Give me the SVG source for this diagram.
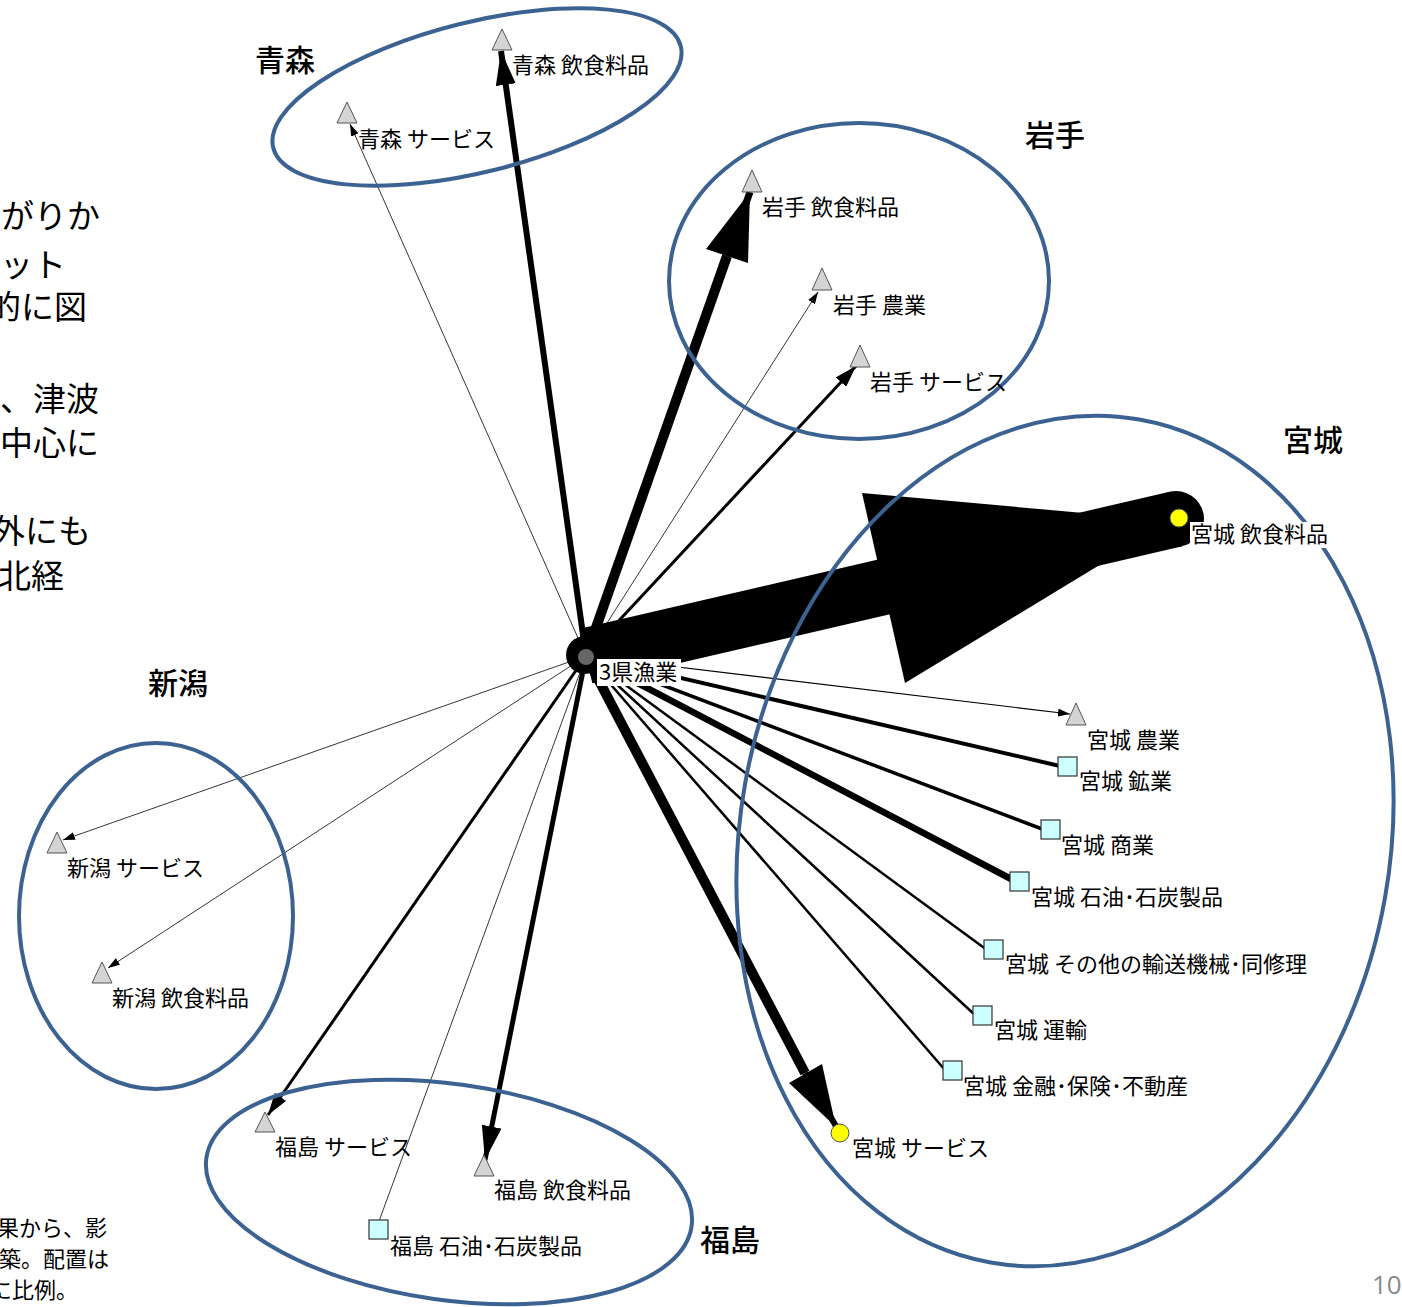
<svg xmlns="http://www.w3.org/2000/svg" width="1402" height="1307" viewBox="0 0 1402 1307">
<style>
.side{font-family:"Noto Sans CJK JP","Noto Sans CJK SC",sans-serif;font-size:33px;fill:#000}
.note{font-family:"Noto Sans CJK JP","Noto Sans CJK SC",sans-serif;font-size:22px;fill:#000}
.grp{font-family:"Noto Sans CJK JP","Noto Sans CJK SC",sans-serif;font-size:30px;font-weight:500;fill:#000}
.lbl{font-family:"Noto Sans CJK JP","Noto Sans CJK SC",sans-serif;font-size:22px;fill:#000}
.tri{fill:#d4d4d4;stroke:#555;stroke-width:1}
.sq{fill:#ccffff;stroke:#333;stroke-width:1.2}
.yel{fill:#ffff00;stroke:#555;stroke-width:1}
.ring{fill:none;stroke:#3c6292;stroke-width:4}
.e{stroke:#000;fill:none}
</style>
<defs>
<marker id="a1" markerUnits="userSpaceOnUse" markerWidth="12" markerHeight="8" refX="12" refY="4" orient="auto"><path d="M0,0 L12,4 L0,8 z" fill="#000"/></marker>
<marker id="a2" markerUnits="userSpaceOnUse" markerWidth="22" markerHeight="14" refX="22" refY="7" orient="auto"><path d="M0,0 L22,7 L0,14 z" fill="#000"/></marker>
<marker id="a3" markerUnits="userSpaceOnUse" markerWidth="34" markerHeight="20" refX="34" refY="10" orient="auto"><path d="M0,0 L34,10 L0,20 z" fill="#000"/></marker>
</defs>
<rect width="1402" height="1307" fill="#fff"/>

<g id="side-text">
<text class="side" x="1" y="228">がりか</text>
<text class="side" x="0" y="277">ット</text>
<text class="side" x="-12" y="319">的に図</text>
<text class="side" x="0" y="411">、津波</text>
<text class="side" x="0" y="455">中心に</text>
<text class="side" x="-8" y="543">外にも</text>
<text class="side" x="-2" y="588">北経</text>
<text class="note" x="-3" y="1236">果から、影</text>
<text class="note" x="-1" y="1267">築。配置は</text>
<text class="note" x="-10" y="1298">に比例。</text>
<text x="1372" y="1294" font-family="'Open Sans','Liberation Sans',sans-serif" font-size="26" fill="#8a8a8a">10</text>
</g>

<g id="connectors">
<line class="e" x1="586" y1="656" x2="501" y2="51" stroke-width="6" marker-end="url(#a3)"/>
<line class="e" x1="586" y1="656" x2="350" y2="124" stroke-width="0.8" marker-end="url(#a1)"/>
<line class="e" x1="586" y1="656" x2="727" y2="256" stroke-width="10"/>
<line class="e" x1="727" y1="256" x2="750" y2="192" stroke-width="7"/>
<polygon points="706,249 748,263 750,192" fill="#000"/>
<line class="e" x1="586" y1="656" x2="818" y2="292" stroke-width="0.8" marker-end="url(#a1)"/>
<line class="e" x1="586" y1="656" x2="856" y2="366" stroke-width="3" marker-end="url(#a2)"/>
<line class="e" x1="586" y1="656" x2="1070" y2="714" stroke-width="1.2" marker-end="url(#a1)"/>
<line class="e" x1="586" y1="656" x2="1060" y2="766" stroke-width="4"/>
<line class="e" x1="586" y1="656" x2="1042" y2="829" stroke-width="3.5"/>
<line class="e" x1="586" y1="656" x2="1013" y2="880" stroke-width="6.5"/>
<line class="e" x1="586" y1="656" x2="987" y2="950" stroke-width="2.5"/>
<line class="e" x1="586" y1="656" x2="975" y2="1015" stroke-width="2.5"/>
<line class="e" x1="586" y1="656" x2="945" y2="1070" stroke-width="2.5"/>
<line class="e" x1="586" y1="656" x2="805" y2="1073" stroke-width="10"/>
<line class="e" x1="805" y1="1073" x2="840" y2="1133" stroke-width="6"/>
<polygon points="789,1083 822,1064 836,1127" fill="#000"/>
<line class="e" x1="586" y1="656" x2="63" y2="840" stroke-width="0.8" marker-end="url(#a1)"/>
<line class="e" x1="586" y1="656" x2="108" y2="968" stroke-width="0.8" marker-end="url(#a1)"/>
<line class="e" x1="586" y1="656" x2="268" y2="1115" stroke-width="3" marker-end="url(#a2)"/>
<line class="e" x1="586" y1="656" x2="485" y2="1160" stroke-width="5" marker-end="url(#a3)"/>
<line class="e" x1="586" y1="656" x2="378" y2="1224" stroke-width="0.8"/>
<line class="e" x1="586" y1="656" x2="1176" y2="519" stroke-width="56"/>
<circle cx="1176" cy="519" r="28" fill="#000"/>
<polygon points="862,493 905,683 1172,521" fill="#000"/>
</g>

<g id="groups">
<ellipse class="ring" cx="477" cy="97" rx="210" ry="75" transform="rotate(-14 477 97)"/>
<ellipse class="ring" cx="859" cy="281" rx="190" ry="158"/>
<ellipse class="ring" cx="1065" cy="841" rx="325" ry="428" transform="rotate(10 1065 841)"/>
<ellipse class="ring" cx="156" cy="916" rx="137" ry="173"/>
<ellipse class="ring" cx="449" cy="1192" rx="245" ry="108" transform="rotate(8 449 1192)"/>
<text class="grp" x="255" y="71">青森</text>
<text class="grp" x="1025" y="146">岩手</text>
<text class="grp" x="1283" y="451">宮城</text>
<text class="grp" x="148" y="694">新潟</text>
<text class="grp" x="700" y="1251">福島</text>
</g>

<g id="n-center">
<circle cx="585" cy="655" r="19" fill="#000"/>
<circle cx="586" cy="657" r="8" fill="#666"/>
<rect x="597" y="659" width="84" height="27" fill="#fff"/>
<text class="lbl" x="599" y="680">3県漁業</text>
</g>
<g id="n-aomori-food"><polygon class="tri" points="502,29 512,50 492,50"/><text class="lbl" x="512" y="73">青森 飲食料品</text></g>
<g id="n-aomori-service"><polygon class="tri" points="347,102 357,123 337,123"/><text class="lbl" x="358" y="147">青森 サービス</text></g>
<g id="n-iwate-food"><polygon class="tri" points="752,170 762,192 742,192"/><text class="lbl" x="762" y="215">岩手 飲食料品</text></g>
<g id="n-iwate-agri"><polygon class="tri" points="822,268 832,290 812,290"/><text class="lbl" x="833" y="313">岩手 農業</text></g>
<g id="n-iwate-service"><polygon class="tri" points="860,345 870,367 850,367"/><text class="lbl" x="870" y="390">岩手 サービス</text></g>
<g id="n-miyagi-food"><circle class="yel" cx="1179" cy="518" r="9"/><rect x="1190" y="522" width="144" height="26" fill="#fff"/><text class="lbl" x="1191" y="542">宮城 飲食料品</text></g>
<g id="n-miyagi-agri"><polygon class="tri" points="1076,703 1086,725 1066,725"/><text class="lbl" x="1087" y="748">宮城 農業</text></g>
<g id="n-miyagi-mining"><rect class="sq" x="1058" y="757" width="19" height="19"/><text class="lbl" x="1079" y="789">宮城 鉱業</text></g>
<g id="n-miyagi-commerce"><rect class="sq" x="1041" y="820" width="19" height="19"/><text class="lbl" x="1061" y="853">宮城 商業</text></g>
<g id="n-miyagi-petro"><rect class="sq" x="1010" y="872" width="19" height="19"/><text class="lbl" x="1031" y="905">宮城 石油･石炭製品</text></g>
<g id="n-miyagi-transport-eq"><rect class="sq" x="984" y="940" width="19" height="19"/><text class="lbl" x="1005" y="972">宮城 その他の輸送機械･同修理</text></g>
<g id="n-miyagi-transport"><rect class="sq" x="973" y="1006" width="19" height="19"/><text class="lbl" x="994" y="1038">宮城 運輸</text></g>
<g id="n-miyagi-finance"><rect class="sq" x="943" y="1061" width="19" height="19"/><text class="lbl" x="963" y="1094">宮城 金融･保険･不動産</text></g>
<g id="n-miyagi-service"><circle class="yel" cx="840" cy="1133" r="9"/><text class="lbl" x="852" y="1156">宮城 サービス</text></g>
<g id="n-niigata-service"><polygon class="tri" points="57,832 67,853 47,853"/><text class="lbl" x="67" y="876">新潟 サービス</text></g>
<g id="n-niigata-food"><polygon class="tri" points="102,962 112,983 92,983"/><text class="lbl" x="112" y="1006">新潟 飲食料品</text></g>
<g id="n-fukushima-service"><polygon class="tri" points="265,1112 275,1132 255,1132"/><text class="lbl" x="275" y="1155">福島 サービス</text></g>
<g id="n-fukushima-food"><polygon class="tri" points="484,1155 494,1176 474,1176"/><text class="lbl" x="494" y="1198">福島 飲食料品</text></g>
<g id="n-fukushima-petro"><rect class="sq" x="369" y="1220" width="19" height="19"/><text class="lbl" x="390" y="1254">福島 石油･石炭製品</text></g>
</svg>
